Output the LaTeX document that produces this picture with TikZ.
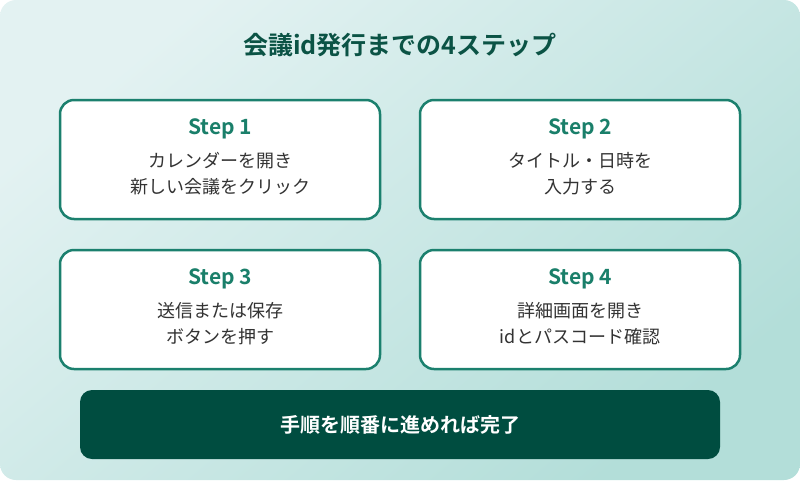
\documentclass[tikz,border=0pt]{standalone}
\usepackage{fontspec}
\setmainfont{Noto Sans CJK JP}
\newfontfamily\jpbold{Noto Sans CJK JP Bold}
\definecolor{bglight}{HTML}{E3F2F2}
\definecolor{bgdark}{HTML}{B3DED9}
\definecolor{bordc}{HTML}{1B806E}
\definecolor{stepc}{HTML}{1A7F6A}
\definecolor{titlec}{HTML}{0B5345}
\definecolor{barc}{HTML}{004D40}
\definecolor{bodyc}{HTML}{333333}
\tikzset{
  stepbox/.style={draw=bordc, line width=2.5pt, fill=white, rounded corners=14pt},
  steplabel/.style={text=stepc, font=\jpbold\fontsize{21}{24}\selectfont, anchor=center, inner sep=0pt},
  bodytext/.style={text=bodyc, font=\fontsize{18}{26}\selectfont, align=center, anchor=center, inner sep=0pt},
}
\begin{document}
\begin{tikzpicture}[x=1pt,y=-1pt]
\useasboundingbox (0,0) rectangle (800,480);
\shade[top color=bglight, bottom color=bgdark, shading angle=40, rounded corners=16pt] (0,0) rectangle (800,480);
\node[text=titlec, font=\jpbold\fontsize{25}{28}\selectfont, inner sep=0pt] (title) at (400,45) {会議id発行までの4ステップ};
% boxes
\draw[stepbox] (60,100) rectangle (380,219);
\draw[stepbox] (420,100) rectangle (740,219);
\draw[stepbox] (60,250) rectangle (380,369);
\draw[stepbox] (420,250) rectangle (740,369);
\node[steplabel] (s1) at (220,129) {Step 1};
\node[bodytext] (b1) at (220,174) {カレンダーを開き\\新しい会議をクリック};
\node[steplabel] (s2) at (580,129) {Step 2};
\node[bodytext] (b2) at (580,174) {タイトル・日時を\\入力する};
\node[steplabel] (s3) at (220,279) {Step 3};
\node[bodytext] (b3) at (220,324) {送信または保存\\ボタンを押す};
\node[steplabel] (s4) at (580,279) {Step 4};
\node[bodytext] (b4) at (580,324) {詳細画面を開き\\idとパスコード確認};
\fill[barc, rounded corners=12pt] (80,390) rectangle (720,459);
\node[text=white, font=\jpbold\fontsize{20}{22}\selectfont, inner sep=0pt] (bar) at (400,424.5) {手順を順番に進めれば完了};
\end{tikzpicture}
\end{document}
